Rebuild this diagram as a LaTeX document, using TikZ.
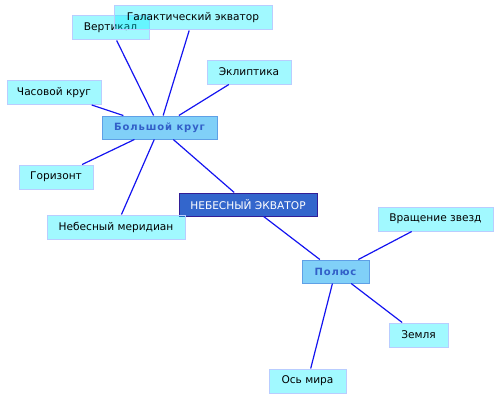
\documentclass[tikz,border=0pt]{standalone}
\usepackage{fontspec}
\setmainfont{DejaVu Sans}
\definecolor{leaffill}{RGB}{0,238,255}
\definecolor{leafdraw}{RGB}{185,205,255}
\definecolor{hubfill}{RGB}{128,208,248}
\definecolor{hubdraw}{RGB}{95,160,230}
\definecolor{hubtext}{RGB}{50,95,200}
\definecolor{rootfill}{RGB}{51,102,204}
\definecolor{rootdraw}{RGB}{50,30,150}
\definecolor{linkcol}{RGB}{20,20,240}
\tikzset{
  leaf/.style={draw=leafdraw, line width=1pt, fill=leaffill, fill opacity=0.37, draw opacity=1, text opacity=1, font=\fontsize{10.6}{12}\selectfont, inner sep=0pt, minimum height=24pt},
  hub/.style={draw=hubdraw, line width=1pt, fill=hubfill, text=hubtext, font=\fontsize{10}{12}\selectfont\bfseries\addfontfeatures{LetterSpace=9}, inner sep=0pt, minimum height=23pt},
  root/.style={draw=rootdraw, line width=1pt, fill=rootfill, text=white, font=\fontsize{10.6}{12}\selectfont, inner sep=0pt, minimum height=23pt},
  link/.style={draw=linkcol, line width=1.2pt}
}
\begin{document}
\begin{tikzpicture}[x=1pt,y=1pt]
\useasboundingbox (0,0) rectangle (500,400);
% nodes
\node[root, minimum width=138pt] (root) at (248,195.5) {НЕБЕСНЫЙ ЭКВАТОР};
\node[hub, minimum width=115pt] (big) at (159.5,272.5) {Большой круг};
\node[hub, minimum width=67pt] (pole) at (335.5,128.5) {Полюс};
\node[leaf, minimum width=77pt] (vert) at (110.5,372) {Вертикал};
\node[leaf, minimum width=158pt] (gal) at (193,382) {Галактический экватор};
\node[leaf, minimum width=84pt] (ecl) at (249,328) {Эклиптика};
\node[leaf, minimum width=94pt] (hour) at (54,307.5) {Часовой круг};
\node[leaf, minimum width=74pt] (hor) at (56,223) {Горизонт};
\node[leaf, minimum width=138pt] (mer) at (116,173) {Небесный меридиан};
\node[leaf, minimum width=115pt] (rot) at (435.5,181) {Вращение звезд};
\node[leaf, minimum width=59pt] (earth) at (418.5,65) {Земля};
\node[leaf, minimum width=77pt] (axis) at (307.5,19) {Ось мира};
% connectors
\draw[link] (big) -- (root);
\draw[link] (root) -- (pole);
\draw[link] (big) -- (vert);
\draw[link] (big) -- (gal);
\draw[link] (big) -- (ecl);
\draw[link] (big) -- (hour);
\draw[link] (big) -- (hor);
\draw[link] (big) -- (mer);
\draw[link] (pole) -- (rot);
\draw[link] (pole) -- (earth);
\draw[link] (pole) -- (axis);
\end{tikzpicture}
\end{document}
